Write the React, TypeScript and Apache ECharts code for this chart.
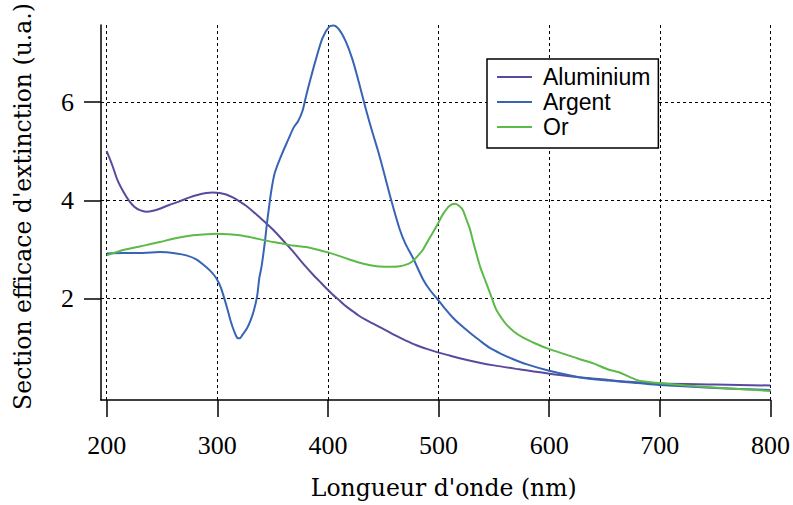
import React, { useEffect, useRef } from "react";
import * as echarts from "echarts";

// Wavelengths (nm) and extinction cross-sections (a.u.)
const aluminiumX = [200, 205, 210, 215, 220, 225, 230, 236, 242, 248, 256, 266, 275, 282, 290, 296, 302, 308, 314, 320, 326, 332, 338, 344, 350, 356, 362, 368, 374, 380, 386, 392, 398, 404, 410, 416, 422, 428, 434, 440, 446, 452, 460, 470, 480, 490, 500, 510, 520, 536, 550, 573, 600, 627, 650, 675, 700, 750, 800];
const aluminiumY = [5.0, 4.72, 4.4, 4.18, 4.0, 3.87, 3.8, 3.77, 3.79, 3.83, 3.9, 3.98, 4.06, 4.11, 4.15, 4.16, 4.15, 4.12, 4.06, 3.98, 3.89, 3.78, 3.66, 3.54, 3.41, 3.27, 3.12, 2.97, 2.81, 2.65, 2.5, 2.36, 2.22, 2.09, 1.97, 1.85, 1.75, 1.65, 1.57, 1.5, 1.43, 1.36, 1.26, 1.15, 1.05, 0.97, 0.9, 0.84, 0.78, 0.7, 0.64, 0.56, 0.47, 0.4, 0.35, 0.3, 0.27, 0.25, 0.23];

const argentX = [200, 215, 233, 248, 263, 272, 281, 288, 293, 297, 300, 303, 306, 309, 312, 315, 318, 320, 323, 327, 330, 333, 336, 338, 340, 343, 345, 347, 349, 352, 358, 364, 369, 373, 377, 380, 384, 389, 395, 401, 405, 410, 416, 422, 428, 434, 440, 445, 450, 457, 465, 470, 477, 486, 492, 499, 506, 513, 520, 528, 537, 546, 556, 567, 580, 600, 627, 654, 680, 700, 750, 800];
const argentY = [2.92, 2.93, 2.93, 2.95, 2.92, 2.88, 2.8, 2.68, 2.58, 2.48, 2.38, 2.24, 2.03, 1.8, 1.55, 1.35, 1.2, 1.19, 1.27, 1.4, 1.55, 1.75, 2.05, 2.42, 2.65, 3.15, 3.55, 3.9, 4.22, 4.56, 4.92, 5.23, 5.48, 5.61, 5.82, 6.1, 6.45, 6.86, 7.3, 7.53, 7.56, 7.48, 7.24, 6.88, 6.4, 5.88, 5.4, 5.03, 4.62, 4.02, 3.4, 3.12, 2.82, 2.39, 2.18, 1.99, 1.79, 1.61, 1.46, 1.31, 1.15, 1.0, 0.88, 0.77, 0.66, 0.53, 0.4, 0.33, 0.28, 0.24, 0.18, 0.14];

const orX = [200, 212, 230, 248, 260, 278, 290, 299, 310, 320, 332, 344, 356, 368, 380, 390, 400, 410, 420, 432, 444, 455, 465, 472, 477, 482, 486, 491, 495, 500, 504, 510, 515, 519, 522, 525, 528, 531, 534, 538, 543, 548, 552, 557, 561, 568, 576, 588, 600, 614, 627, 640, 654, 663, 672, 681, 690, 699, 735, 771, 800];
const orY = [2.88, 2.97, 3.06, 3.15, 3.22, 3.29, 3.31, 3.32, 3.31, 3.29, 3.24, 3.18, 3.13, 3.08, 3.05, 3.0, 2.94, 2.87, 2.79, 2.71, 2.66, 2.65, 2.66, 2.7, 2.77, 2.89, 3.0, 3.2, 3.35, 3.55, 3.72, 3.89, 3.93, 3.88, 3.8, 3.62, 3.44, 3.18, 2.93, 2.62, 2.32, 2.02, 1.78, 1.6, 1.48, 1.33, 1.21, 1.08, 0.97, 0.87, 0.77, 0.68, 0.55, 0.5, 0.41, 0.33, 0.3, 0.28, 0.21, 0.16, 0.12];

const seriesNames = ["Aluminium", "Argent", "Or"];
const seriesColors = ["#5a4a9f", "#3864b6", "#5bba48"];
const xTicks = [200, 300, 400, 500, 600, 700, 800];
const yTicks = [2, 4, 6];

const zip = (xs: number[], ys: number[]) => xs.map((x, i) => [x, ys[i]]);

export default function App() {
  const ref = useRef<HTMLDivElement>(null);
  useEffect(() => {
    if (!ref.current) return;
    const chart = echarts.init(ref.current, null, { renderer: "svg" });
    const datasets = [zip(aluminiumX, aluminiumY), zip(argentX, argentY), zip(orX, orY)];
    const serif = "Liberation Serif";
    const titleFont = "DejaVu Serif";
    chart.setOption({
      animation: false,
      backgroundColor: "#ffffff",
      grid: { left: 101, right: 21, top: 25, bottom: 104, containLabel: false },
      legend: {
        orient: "vertical",
        left: 487,
        top: 59,
        data: seriesNames,
        icon: "path://M0,0 L35,0 L35,2 L0,2 Z",
        backgroundColor: "#ffffff",
        borderColor: "#000000",
        borderWidth: 1.5,
        borderRadius: 0,
        padding: [6, 8, 9, 10],
        itemWidth: 35,
        itemHeight: 2,
        itemGap: 1,
        textStyle: {
          fontFamily: "Liberation Sans",
          fontSize: 23,
          color: "#000000",
          lineHeight: 24,
          padding: [0, 0, 0, 6],
        },
      },
      xAxis: {
        type: "value",
        min: 194.9,
        max: 800,
        name: "Longueur d'onde (nm)",
        nameLocation: "middle",
        nameGap: 76,
        nameTextStyle: { fontFamily: titleFont, fontSize: 23.5, color: "#000000", padding: [0, 0, 0, 16] },
        axisLine: { show: true, onZero: false, lineStyle: { color: "#000000", width: 1.5 } },
        axisTick: { show: true, inside: false, length: 17, customValues: xTicks, lineStyle: { color: "#000000", width: 1.5 } },
        axisLabel: { customValues: xTicks, fontFamily: serif, fontSize: 26, color: "#000000", margin: 32 },
        splitLine: { show: true, lineStyle: { color: "#000000", width: 1, type: [3, 3] } },
      },
      yAxis: {
        type: "value",
        min: -0.065,
        max: 7.57,
        name: "Section efficace d'extinction (u.a.)",
        nameLocation: "middle",
        nameGap: 66,
        nameTextStyle: { fontFamily: titleFont, fontSize: 23.5, color: "#000000", padding: [0, 0, 0, 12] },
        axisLine: { show: true, onZero: false, lineStyle: { color: "#000000", width: 1.5 } },
        axisTick: { show: true, inside: false, length: 17, customValues: yTicks, lineStyle: { color: "#000000", width: 1.5 } },
        axisLabel: { customValues: yTicks, fontFamily: serif, fontSize: 26, color: "#000000", margin: 27 },
        splitLine: { show: true, lineStyle: { color: "#000000", width: 1, type: [3, 3] } },
      },
      series: seriesNames.map((name, i) => ({
        name,
        type: "line",
        data: datasets[i],
        showSymbol: false,
        symbol: "none",
        smooth: 0.3,
        color: seriesColors[i],
        itemStyle: { color: seriesColors[i] },
        lineStyle: { color: seriesColors[i], width: 2 },
        z: 3 + i,
      })),
    });
    return () => chart.dispose();
  }, []);
  return (
    <div
      ref={ref}
      style={{ position: "fixed", left: 0, top: 0, width: 793, height: 505 }}
    />
  );
}
